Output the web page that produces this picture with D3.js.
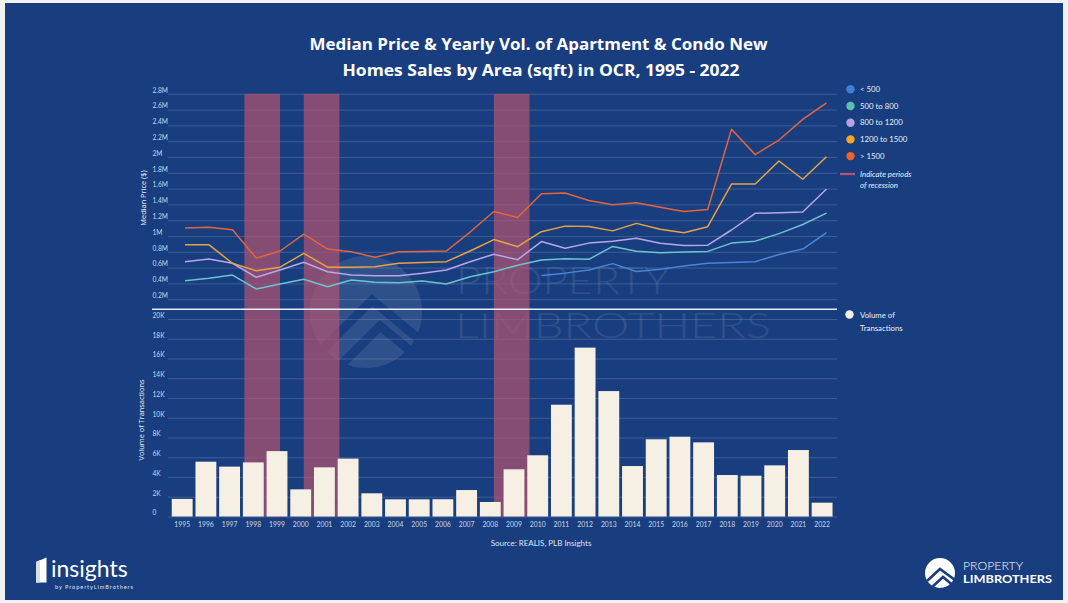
<!DOCTYPE html>
<html>
<head>
<meta charset="utf-8">
<script src="https://cdn.jsdelivr.net/npm/d3@7"></script>
<style>
  html, body { margin: 0; padding: 0; background: #f2f2f2; }
  svg { display: block; }
  text { font-family: "Open Sans", "Lato", sans-serif; }
</style>
</head>
<body>
<svg id="chart" width="1068" height="603"></svg>
<script>
// ---- data -------------------------------------------------------------
const years = [1995, 1996, 1997, 1998, 1999, 2000, 2001, 2002, 2003, 2004,
               2005, 2006, 2007, 2008, 2009, 2010, 2011, 2012, 2013, 2014,
               2015, 2016, 2017, 2018, 2019, 2020, 2021, 2022];

// yearly volume of transactions
const volume = [1780, 5550, 5050, 5480, 6620, 2750, 4980, 5860, 2350, 1740,
                1740, 1750, 2680, 1470, 4780, 6200, 11320, 17100, 12700, 5110,
                7820, 8080, 7510, 4200, 4130, 5180, 6730, 1400];

// median price, $M, by unit size (sqft)
const priceUnder500 = [null, null, null, null, null, null, null, null, null, null,
                       null, null, null, null, null, 0.50, 0.53, 0.57, 0.65, 0.55,
                       0.58, 0.62, 0.655, 0.665, 0.675, 0.765, 0.835, 1.042];
const price500to800 = [0.434, 0.464, 0.506, 0.329, 0.392, 0.452, 0.358, 0.443, 0.414, 0.409,
                       0.43, 0.392, 0.485, 0.548, 0.63, 0.696, 0.713, 0.705, 0.868, 0.808,
                       0.788, 0.798, 0.805, 0.91, 0.935, 1.03, 1.145, 1.29];
const price800to1200 = [0.675, 0.71, 0.655, 0.477, 0.57, 0.667, 0.548, 0.506, 0.497, 0.497,
                        0.527, 0.57, 0.675, 0.77, 0.70, 0.93, 0.844, 0.91, 0.935, 0.971,
                        0.907, 0.88, 0.884, 1.076, 1.287, 1.295, 1.304, 1.595];
const price1200to1500 = [0.89, 0.89, 0.655, 0.56, 0.605, 0.78, 0.605, 0.605, 0.61, 0.655,
                         0.665, 0.675, 0.81, 0.955, 0.865, 1.055, 1.125, 1.12, 1.065, 1.16,
                         1.085, 1.042, 1.118, 1.658, 1.658, 1.949, 1.718, 2.004];
const priceOver1500 = [1.10, 1.11, 1.08, 0.72, 0.81, 1.025, 0.835, 0.80, 0.73, 0.80,
                       0.805, 0.81, 1.05, 1.31, 1.235, 1.535, 1.545, 1.45, 1.395, 1.42,
                       1.365, 1.31, 1.335, 2.35, 2.03, 2.215, 2.477, 2.685];

const seriesNames = ["< 500", "500 to 800", "800 to 1200", "1200 to 1500", "> 1500"];

// recession periods (fractional years)
const recessionStart = [1997.5, 2000, 2008];
const recessionEnd   = [1999, 2001.5, 2009.5];

const priceTicks  = [0.2, 0.4, 0.6, 0.8, 1, 1.2, 1.4, 1.6, 1.8, 2, 2.2, 2.4, 2.6, 2.8];
const volumeTicks = [0, 2000, 4000, 6000, 8000, 10000, 12000, 14000, 16000, 18000, 20000];

// ---- styles -----------------------------------------------------------
const BG = "#193e80";
const lineColors   = ["#4a84d4", "#6cc3cc", "#b9a6e8", "#eaa23e", "#e4643c"];
const legendColors = ["#3f7fd9", "#5cc0b0", "#b9a3e3", "#f5a623", "#f0602a"];
const BAR = "#f6f0e4";
const GRID = "rgba(255,255,255,0.2)";
const TICK_TEXT = "rgba(235,240,250,0.85)";

const svg = d3.select("#chart");

// background panel
svg.append("rect").attr("x", 5).attr("y", 3).attr("width", 1058).attr("height", 597)
  .attr("fill", BG);

// ---- scales -----------------------------------------------------------
const plotLeft = 168, plotRight = 837;
const xBand = d3.scaleBand().domain(years).range([170.35, 833.95])
  .paddingInner(0.12).paddingOuter(0.06);
const xLine = d3.scaleLinear().domain([1995, 2022]).range([185, 826.5]);
const yPrice = d3.scaleLinear().domain([0, 2.8]).range([315, 93.8]);
const yVol = d3.scaleLinear().domain([0, 20000]).range([516.5, 319]);

// ---- watermark --------------------------------------------------------
const wm = svg.append("g").attr("opacity", 0.09);
wm.append("circle").attr("cx", 366).attr("cy", 312).attr("r", 56).attr("fill", "#ffffff");
const chev = wm.append("g").attr("fill", "none").attr("stroke", BG).attr("stroke-width", 9);
chev.append("path").attr("d", "M322,350 L372,300 L420,340");
chev.append("path").attr("d", "M338,368 L380,326 L424,362");
wm.append("text").attr("x", 456).attr("y", 294).attr("font-size", 38).attr("font-weight", 300)
  .attr("fill", "#ffffff").attr("textLength", 214).attr("lengthAdjust", "spacingAndGlyphs")
  .style("font-family", "Lato, sans-serif").text("PROPERTY");
wm.append("text").attr("x", 455).attr("y", 338).attr("font-size", 35).attr("font-weight", 300)
  .attr("fill", "#ffffff").attr("textLength", 316).attr("lengthAdjust", "spacingAndGlyphs")
  .style("font-family", "Lato, sans-serif").text("LIMBROTHERS");

// ---- axes / gridlines -------------------------------------------------
function styleAxis(g) {
  g.select(".domain").remove();
  g.selectAll(".tick line").attr("stroke", GRID).attr("stroke-width", 0.8);
  g.selectAll(".tick text")
    .attr("x", 152.5 - plotLeft).attr("y", -4).attr("dy", "0.35em")
    .attr("text-anchor", "start")
    .attr("fill", TICK_TEXT).attr("font-size", 6.6)
    .style("font-family", "Lato, sans-serif");
}

svg.append("g").attr("transform", `translate(${plotLeft},0)`)
  .call(d3.axisLeft(yPrice).tickValues(priceTicks).tickSize(-(plotRight - plotLeft))
    .tickFormat(v => (+v.toFixed(1)) + "M"))
  .call(styleAxis);

svg.append("g").attr("transform", `translate(${plotLeft},0)`)
  .call(d3.axisLeft(yVol).tickValues(volumeTicks).tickSize(-(plotRight - plotLeft))
    .tickFormat(v => v === 0 ? "0" : (v / 1000) + "K"))
  .call(styleAxis);

// ---- recession bands --------------------------------------------------
svg.append("g").selectAll("rect").data(recessionStart).join("rect")
  .attr("x", (d) => xLine(d))
  .attr("width", (d, i) => xLine(recessionEnd[i]) - xLine(d))
  .attr("y", yPrice(2.8))
  .attr("height", yVol(0) - yPrice(2.8))
  .attr("fill", "#b4546f").attr("opacity", 0.7);

// ---- bars -------------------------------------------------------------
svg.append("g").selectAll("rect").data(volume).join("rect")
  .attr("x", (d, i) => xBand(years[i]))
  .attr("width", xBand.bandwidth())
  .attr("y", d => yVol(d))
  .attr("height", d => yVol(0) - yVol(d))
  .attr("fill", BAR);

// ---- price lines ------------------------------------------------------
const series = [priceUnder500, price500to800, price800to1200, price1200to1500, priceOver1500];
const line = d3.line()
  .defined(d => d != null)
  .x((d, i) => xLine(years[i]))
  .y(d => yPrice(d));
svg.append("g").selectAll("path").data(series).join("path")
  .attr("d", line)
  .attr("fill", "none")
  .attr("stroke", (d, i) => lineColors[i])
  .attr("stroke-width", 1.5)
  .attr("stroke-linejoin", "round");

// separator between the two panels
svg.append("line").attr("x1", 152).attr("x2", plotRight).attr("y1", 309.3).attr("y2", 309.3)
  .attr("stroke", "#e6ecf6").attr("stroke-width", 1.5);

// ---- x axis labels ----------------------------------------------------
const xAxisG = svg.append("g").attr("transform", `translate(0,${yVol(0)})`)
  .call(d3.axisBottom(xBand).tickSize(0).tickPadding(4));
xAxisG.select(".domain").remove();
xAxisG.selectAll(".tick text").attr("y", 8).attr("dy", "0.35em")
  .attr("fill", TICK_TEXT).attr("font-size", 6.8)
  .style("font-family", "Lato, sans-serif");

// ---- axis titles ------------------------------------------------------
svg.append("text").attr("transform", "translate(146,198) rotate(-90)")
  .attr("text-anchor", "middle").attr("font-size", 7.4).attr("fill", "#e8eef8")
  .text("Median Price ($)");
svg.append("text").attr("transform", "translate(144,420) rotate(-90)")
  .attr("text-anchor", "middle").attr("font-size", 7.4).attr("fill", "#e8eef8")
  .text("Volume of Transactions");

// ---- title ------------------------------------------------------------
const title = svg.append("g").attr("fill", "#ffffff").attr("font-weight", 700)
  .attr("text-anchor", "middle").attr("font-size", 16);
title.append("text").attr("x", 538.5).attr("y", 50)
  .attr("textLength", 458).attr("lengthAdjust", "spacingAndGlyphs")
  .text("Median Price & Yearly Vol. of Apartment & Condo New");
title.append("text").attr("x", 541).attr("y", 75.5)
  .attr("textLength", 397).attr("lengthAdjust", "spacingAndGlyphs")
  .text("Homes Sales by Area (sqft) in OCR, 1995 - 2022");

// ---- legend -----------------------------------------------------------
const legend = svg.append("g");
seriesNames.forEach((name, i) => {
  const y = 89.3 + i * 16.7;
  legend.append("circle").attr("cx", 850.5).attr("cy", y).attr("r", 4.2)
    .attr("fill", legendColors[i]);
  legend.append("text").attr("x", 860).attr("y", y).attr("dy", "0.35em")
    .attr("font-size", 7.8).attr("fill", "#e8eef8")
    .style("font-family", "Lato, sans-serif").text(name);
});
legend.append("line").attr("x1", 840).attr("x2", 855).attr("y1", 174).attr("y2", 174)
  .attr("stroke", "#b4546f").attr("stroke-width", 2.2);
const recText = legend.append("text").attr("font-size", 7.8).attr("font-style", "italic")
  .attr("fill", "#e8eef8").style("font-family", "Lato, sans-serif");
recText.append("tspan").attr("x", 860).attr("y", 176.7).text("Indicate periods");
recText.append("tspan").attr("x", 860).attr("y", 188.2).text("of recession");
legend.append("circle").attr("cx", 849.5).attr("cy", 314.5).attr("r", 4.2).attr("fill", BAR);
const volText = legend.append("text").attr("font-size", 7.8).attr("fill", "#e8eef8")
  .style("font-family", "Lato, sans-serif");
volText.append("tspan").attr("x", 860).attr("y", 318.2).text("Volume of");
volText.append("tspan").attr("x", 860).attr("y", 330.7).text("Transactions");

// ---- source -----------------------------------------------------------
svg.append("text").attr("x", 541).attr("y", 543).attr("dy", "0.35em")
  .attr("text-anchor", "middle").attr("font-size", 8).attr("fill", "#dfe6f2")
  .style("font-family", "Lato, sans-serif").text("Source: REALIS, PLB Insights");

// ---- brand marks ------------------------------------------------------
const ins = svg.append("g");
ins.append("path").attr("d", "M36,562 L46.5,557.5 L46.5,582.5 L36,582.5 Z").attr("fill", "#ffffff");
ins.append("path").attr("d", "M36,562 L40,560 L40,582.5 L36,582.5 Z").attr("fill", "#d8dde8");
ins.append("text").attr("x", 51).attr("y", 577).attr("font-size", 23).attr("fill", "#ffffff")
  .style("font-family", "Lato, sans-serif").text("insights");
ins.append("text").attr("x", 55).attr("y", 588.5).attr("font-size", 5.6).attr("fill", "#dfe6f2")
  .attr("textLength", 78).style("font-family", "Lato, sans-serif").text("by PropertyLimBrothers");

const plb = svg.append("g");
plb.append("circle").attr("cx", 940).attr("cy", 573).attr("r", 15).attr("fill", "#ffffff");
const plbChev = plb.append("g").attr("fill", "none").attr("stroke", BG).attr("stroke-width", 2.6);
plbChev.append("path").attr("d", "M927,581 L940,569 L955,580");
plbChev.append("path").attr("d", "M931,588 L943,577 L955,587");
plb.append("text").attr("x", 963).attr("y", 569.5).attr("font-size", 11).attr("font-weight", 300)
  .attr("fill", "#ffffff").attr("textLength", 60).attr("lengthAdjust", "spacingAndGlyphs")
  .style("font-family", "Lato, sans-serif").text("PROPERTY");
plb.append("text").attr("x", 963).attr("y", 583).attr("font-size", 11).attr("font-weight", 700)
  .attr("fill", "#ffffff").attr("textLength", 89).attr("lengthAdjust", "spacingAndGlyphs")
  .style("font-family", "Lato, sans-serif").text("LIMBROTHERS");
</script>
</body>
</html>
